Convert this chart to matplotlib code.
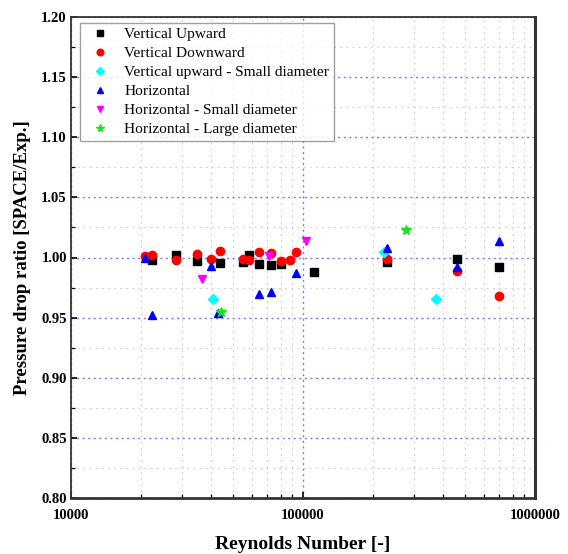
import matplotlib
matplotlib.use("Agg")
import matplotlib.pyplot as plt
from matplotlib.ticker import FixedLocator, FixedFormatter, MultipleLocator, LogLocator, NullFormatter

vu_x = [22300, 28420, 34760, 43750, 55150, 58560, 64430, 73100, 80700, 111500, 229500, 460400, 696600]
vu_y = [0.998, 1.0017, 0.997, 0.9956, 0.996, 1.0017, 0.995, 0.9934, 0.9942, 0.988, 0.996, 0.9989, 0.992]

vd_x = [20800, 22400, 28420, 34760, 40140, 43750, 55150, 58560, 64430, 73100, 80700, 87700, 93100, 229500, 460400, 696600]
vd_y = [1.001, 1.002, 0.998, 1.003, 0.999, 1.005, 0.999, 0.998, 1.0044, 1.0039, 0.997, 0.998, 1.0047, 0.9989, 0.9887, 0.968]

vus_x = [41060, 224300, 374700]
vus_y = [0.9658, 1.0044, 0.9658]

h_x = [20760, 22400, 40140, 43010, 64700, 73100, 93100, 229500, 460400, 696600]
h_y = [1.000, 0.952, 0.993, 0.954, 0.9694, 0.9716, 0.987, 1.0075, 0.992, 1.0135]

hs_x = [36680, 71120, 103500]
hs_y = [0.982, 1.001, 1.0135]

hl_x = [44460, 277900]
hl_y = [0.9547, 1.0226]

x_ticks = [10000, 100000, 1000000]
x_ticklabels = ["10000", "100000", "1000000"]

plt.rcParams['font.family'] = ['Liberation Serif', 'DejaVu Serif']

fig = plt.figure(figsize=(5.68, 5.54), dpi=100)
L, R, T, B = 71, 535, 17, 498
ax = fig.add_axes([L/568, (554-B)/554, (R-L)/568, (B-T)/554])

ms = 5.5
ax.plot(vu_x, vu_y, 's', color='black', ms=ms, label='Vertical Upward', zorder=3)
ax.plot(vd_x, vd_y, 'o', color='red', ms=ms+0.5, label='Vertical Downward', zorder=3)
ax.plot(vus_x, vus_y, 'D', color='cyan', ms=ms-0.5, label='Vertical upward - Small diameter', zorder=3)
ax.plot(h_x, h_y, '^', color='blue', ms=ms+0.5, label='Horizontal', zorder=3)
ax.plot(hs_x, hs_y, 'v', color='magenta', ms=ms+0.5, label='Horizontal - Small diameter', zorder=3)
ax.plot(hl_x, hl_y, '*', color='#22dd22', ms=ms+1.5, label='Horizontal - Large diameter', zorder=3)

ax.set_xscale('log')
ax.set_xlim(10000, 1000000)
ax.set_ylim(0.80, 1.20)
ax.xaxis.set_major_locator(FixedLocator(x_ticks))
ax.xaxis.set_major_formatter(FixedFormatter(x_ticklabels))
ax.xaxis.set_minor_locator(LogLocator(base=10, subs=range(2, 10)))
ax.xaxis.set_minor_formatter(NullFormatter())
ax.yaxis.set_major_locator(MultipleLocator(0.05))
ax.yaxis.set_minor_locator(MultipleLocator(0.025))
ax.yaxis.set_major_formatter(matplotlib.ticker.FormatStrFormatter('%.2f'))

ax.grid(True, which='major', color='#7878ff', linestyle=(0, (1.5, 2.5)), linewidth=1.0)
ax.grid(True, which='minor', color='#cccccc', linestyle=(0, (1.5, 4)), linewidth=0.8)
ax.set_axisbelow(True)

ax.tick_params(which='both', direction='in', labelsize=10.5)
ax.tick_params(which='major', length=4, width=1.2)
ax.tick_params(which='minor', length=3, width=0.9)
ax.tick_params(axis='x', pad=8)
ax.tick_params(axis='y', pad=3)
for lab in ax.get_xticklabels() + ax.get_yticklabels():
    lab.set_fontweight('bold')

for s in ax.spines.values():
    s.set_linewidth(1.3)
    s.set_color('#333333')
ax.spines['right'].set_linewidth(2.2)
ax.spines['bottom'].set_linewidth(2.0)

ax.set_xlabel('Reynolds Number [-]', fontsize=14, fontweight='bold', labelpad=10)
ax.set_ylabel('Pressure drop ratio [SPACE/Exp.]', fontsize=13.5, fontweight='bold', labelpad=7)

leg = ax.legend(loc='upper left', bbox_to_anchor=(0.02, 0.988), fontsize=11.1, frameon=True,
                fancybox=False, edgecolor='#888888', markerscale=0.8, handlelength=2.0,
                handletextpad=0.55, borderpad=0.3, labelspacing=0.34, borderaxespad=0)
leg.get_frame().set_linewidth(1.0)

fig.savefig('out.png', dpi=100)
